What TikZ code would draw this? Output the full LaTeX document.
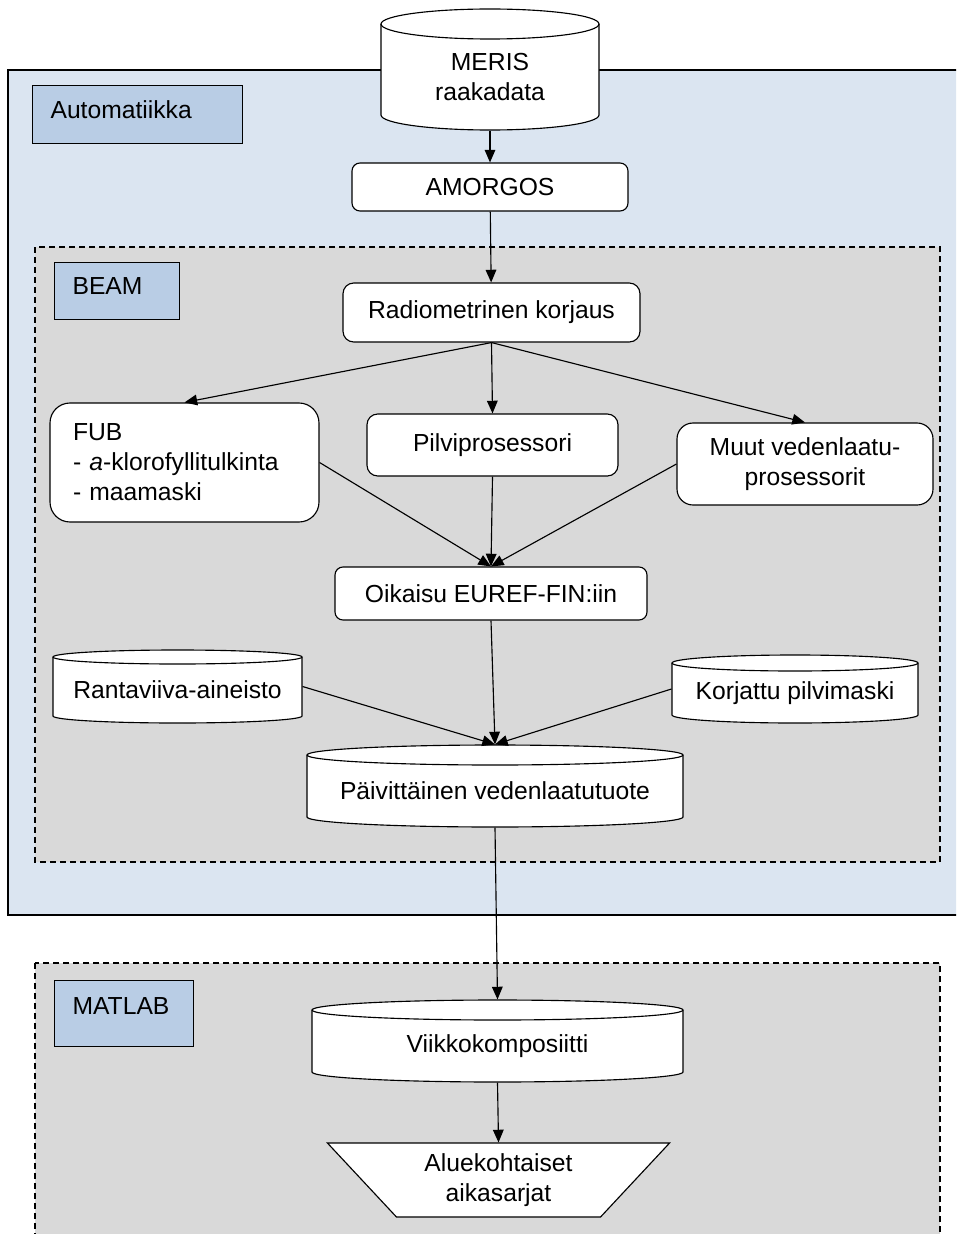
\documentclass[tikz,border=0pt]{standalone}
\usepackage{fontspec}
\setmainfont{Liberation Sans}
\usetikzlibrary{arrows.meta}
\usetikzlibrary{shapes.geometric}
\definecolor{autoblue}{HTML}{DBE5F1}
\definecolor{tagblue}{HTML}{B9CDE5}
\definecolor{areagray}{HTML}{D9D9D9}
\tikzset{
  every node/.style = {font=\fontsize{18.5}{22.5}\selectfont},
  proc/.style = {draw, fill=white, rounded corners=6pt, align=center, inner sep=0},
  tag/.style = {draw, fill=tagblue, anchor=north west, align=left, inner sep=0, text depth=7pt},
  cylbox/.style = {inner sep=0},
  cyllabel/.style = {align=center},
  cyl/.style = {draw, fill=white},
  trap/.style = {draw, fill=white, trapezium, shape border rotate=180,
    trapezium angle=46.6, trapezium stretches=true, align=center, inner sep=0},
  flow/.style = {-{Triangle[length=9.5pt, width=8pt]}},
  area/.style = {draw, fill=areagray, dash pattern=on 4.5pt off 3pt},
}
% name, centre x, top y, width, height, ellipse radius, text
\newcommand\cylnode[7]{%
  \draw[cyl] (#2-#4/2, -#3-#6) -- (#2-#4/2, -#3-#5+#6)
    arc[start angle=180, end angle=360, x radius=#4/2, y radius=#6]
    -- (#2+#4/2, -#3-#6)
    arc[start angle=0, end angle=180, x radius=#4/2, y radius=#6] -- cycle;
  \draw (#2-#4/2, -#3-#6)
    arc[start angle=180, end angle=360, x radius=#4/2, y radius=#6];
  \node[cylbox, minimum width=#4*0.75pt, minimum height=#5*0.75pt,
    label={[cyllabel, yshift=-#6*0.375pt]center:#7}] (#1) at (#2, -#3-#5/2) {};
}

\begin{document}
\begin{tikzpicture}[x=0.75pt, y=0.75pt, line width=0.85pt]
  \useasboundingbox (0,0) rectangle (956,-1234);
  \clip (0,0) rectangle (956,-1234);

  % containers
  \draw[fill=autoblue] (8,-70) rectangle (970,-915);
  \node[tag, minimum width=210*0.75pt, minimum height=58*0.75pt, text width=130.5pt] (autotag) at (32,-85) {Automatiikka};
  \draw[area] (35,-247) rectangle (940,-862);
  \node[tag, minimum width=125*0.75pt, minimum height=57*0.75pt, text width=66.75pt] (beamtag) at (54,-262) {BEAM};
  \draw[area] (35,-963) rectangle (940,-1260);
  \node[tag, minimum width=139*0.75pt, minimum height=66*0.75pt, text width=77.25pt, text depth=11pt] (mattag) at (54,-980) {MATLAB};

  % steps
  \cylnode{mer}{490}{9}{218}{121}{15}{MERIS\\raakadata}
  \node[proc, minimum width=276*0.75pt, minimum height=48*0.75pt] (amo) at (490,-187) {AMORGOS};
  \node[proc, rounded corners=8pt, minimum width=297*0.75pt, minimum height=59*0.75pt] (rad) at (491.5,-312.5) {Radiometrinen korjaus};
  \node[proc, rounded corners=15pt, minimum width=269*0.75pt, minimum height=119*0.75pt, text width=167.25pt, align=left] (fub) at (184.5,-462.5) {FUB\\- \textit{a}-klorofyllitulkinta\\- maamaski};
  \node[proc, rounded corners=8pt, minimum width=251*0.75pt, minimum height=62*0.75pt] (pil) at (492.5,-445) {Pilviprosessori};
  \node[proc, rounded corners=12pt, minimum width=256*0.75pt, minimum height=82*0.75pt] (muu) at (805,-464) {Muut vedenlaatu-\\prosessorit};
  \node[proc, minimum width=312*0.75pt, minimum height=53*0.75pt] (oik) at (491,-593.5) {Oikaisu EUREF-FIN:iin};
  \cylnode{ran}{177.5}{650}{249}{73}{7}{Rantaviiva-aineisto}
  \cylnode{kor}{795}{655}{246}{68}{8}{Korjattu pilvimaski}
  \cylnode{pva}{495}{745}{376}{82}{10}{Päivittäinen vedenlaatutuote}
  \cylnode{vii}{497.5}{1000}{371}{82}{10}{Viikkokomposiitti}
  \node[trap, minimum width=343*0.75pt, minimum height=74*0.75pt] (ali) at (498.5,-1180) {Aluekohtaiset\\aikasarjat};

  % flow
  \draw[flow] (mer) -- (amo);
  \draw[flow] (amo) -- (rad);
  \draw[flow] (rad.south) -- (fub.north);
  \draw[flow] (rad.south) -- (pil.north);
  \draw[flow] (rad.south) -- (muu.north);
  \draw[flow] (fub.east) -- (oik.north);
  \draw[flow] (pil.south) -- (oik.north);
  \draw[flow] (muu.west) -- (oik.north);
  \draw[flow] (oik.south) -- (pva.north);
  \draw[flow] (ran.east) -- (pva.north);
  \draw[flow] (kor.west) -- (pva.north);
  \draw[flow] (pva.south) -- (vii.north);
  \draw[flow] (vii.south) -- (ali.north);
\end{tikzpicture}
\end{document}
